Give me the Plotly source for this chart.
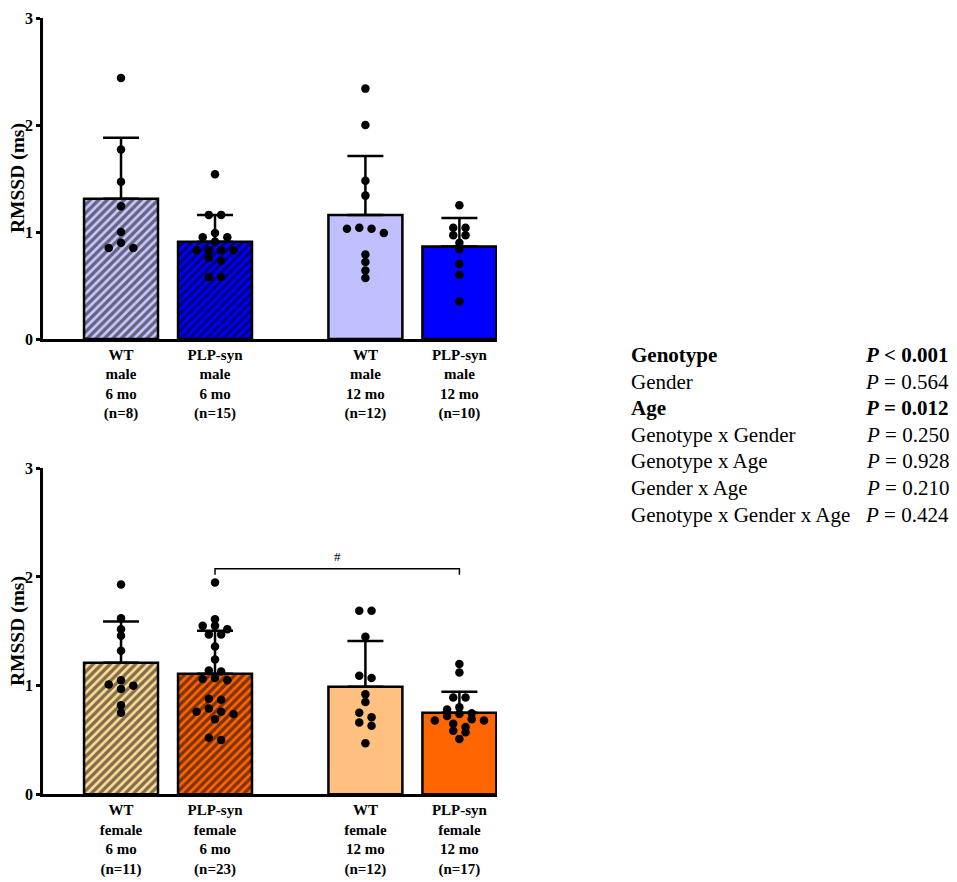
import plotly.graph_objects as go

# ---------------- data ----------------
male_labels = ["WT<br>male<br>6 mo<br>(n=8)", "PLP-syn<br>male<br>6 mo<br>(n=15)",
               "WT<br>male<br>12 mo<br>(n=12)", "PLP-syn<br>male<br>12 mo<br>(n=10)"]
female_labels = ["WT<br>female<br>6 mo<br>(n=11)", "PLP-syn<br>female<br>6 mo<br>(n=23)",
                 "WT<br>female<br>12 mo<br>(n=12)", "PLP-syn<br>female<br>12 mo<br>(n=17)"]
y_ticks = [0, 1, 2, 3]

male_mean = [1.31, 0.91, 1.16, 0.865]
male_sd = [0.57, 0.25, 0.55, 0.265]
female_mean = [1.21, 1.11, 0.99, 0.75]
female_sd = [0.38, 0.395, 0.42, 0.194]

wt_male_6 = [2.44, 1.77, 1.47, 1.24, 1.00, 0.90, 0.85, 0.85]
plp_male_6 = [1.54, 1.16, 1.16, 0.99, 0.95, 0.95, 0.91, 0.83, 0.83, 0.83, 0.83, 0.76, 0.73, 0.58, 0.58]
wt_male_12 = [2.34, 2.00, 1.48, 1.34, 1.04, 1.03, 1.03, 0.99, 0.79, 0.72, 0.64, 0.57]
plp_male_12 = [1.25, 1.04, 1.04, 0.97, 0.97, 0.90, 0.84, 0.70, 0.60, 0.35]

wt_female_6 = [1.93, 1.62, 1.52, 1.46, 1.32, 1.05, 1.01, 1.00, 0.97, 0.82, 0.75]
plp_female_6 = [1.95, 1.61, 1.55, 1.55, 1.52, 1.47, 1.47, 1.36, 1.24, 1.14, 1.13, 1.07, 1.06,
                1.05, 0.88, 0.87, 0.79, 0.76, 0.76, 0.74, 0.69, 0.52, 0.50]
wt_female_12 = [1.69, 1.69, 1.45, 1.09, 1.07, 0.92, 0.85, 0.75, 0.71, 0.66, 0.63, 0.47]
plp_female_12 = [1.20, 1.12, 0.89, 0.89, 0.80, 0.78, 0.745, 0.74, 0.72, 0.69, 0.68, 0.68,
                 0.65, 0.62, 0.585, 0.57, 0.51]

male_points = [wt_male_6, plp_male_6, wt_male_12, plp_male_12]
female_points = [wt_female_6, plp_female_6, wt_female_12, plp_female_12]

bracket_pair = [1, 3]
bracket_y = [2.02, 2.075]
bracket_label = "#"
bracket_label_y = 2.19

stats_terms = ["Genotype", "Gender", "Age", "Genotype x Gender", "Genotype x Age",
               "Gender x Age", "Genotype x Gender x Age"]
stats_rel = ["&lt;", "=", "=", "=", "=", "=", "="]
stats_p = ["0.001", "0.564", "0.012", "0.250", "0.928", "0.210", "0.424"]
stats_bold = [True, False, True, False, False, False, False]

# ---------------- styles ----------------
W, H = 957, 882
OFF = 8  # page body margin
pos = [0, 1, 2.6, 3.6]
male_colors = ["#c8c8ff", "#0000ff", "#c0c0ff", "#0000ff"]
female_colors = ["#ffdc96", "#ff6600", "#ffc080", "#ff6600"]
hatched = [True, True, False, False]
FONT = "Liberation Serif"

X_PX = 94.0      # px per x unit


def fx(px):
    return (px - OFF) / W


def fy(py):
    return 1 - (py - OFF) / H


def swarm(vals, binh=0.06, step=12.3 / X_PX):
    order = sorted(range(len(vals)), key=lambda i: -vals[i])
    rows, cur, start = [], [], None
    for i in order:
        if cur and vals[start] - vals[i] > binh:
            rows.append(cur)
            cur = []
        if not cur:
            start = i
        cur.append(i)
    if cur:
        rows.append(cur)
    offs = [0.0] * len(vals)
    for r in rows:
        n = len(r)
        slots = [(k - (n - 1) / 2) * step for k in range(n)]
        slots.sort(key=lambda s: (abs(s), s))
        for i, s in zip(r, slots):
            offs[i] = s
    return offs


fig = go.Figure()


def add_panel(means, sds, points, colors, xa, ya):
    for i in range(4):
        pattern = dict(shape="/" if hatched[i] else "", fgcolor="black",
                       bgcolor=colors[i], size=6, solidity=0.55)
        fig.add_trace(go.Bar(
            x=[pos[i]], y=[means[i]], width=0.787,
            marker=dict(color=colors[i], line=dict(color="black", width=2.5), pattern=pattern),
            error_y=dict(type="data", symmetric=False, array=[sds[i]], arrayminus=[0],
                         color="black", thickness=2.5, width=18),
            xaxis=xa, yaxis=ya, hoverinfo="skip"))
    for i in range(4):
        offs = swarm(points[i])
        fig.add_trace(go.Scatter(
            x=[pos[i] + o for o in offs], y=points[i], mode="markers",
            marker=dict(color="black", size=8.5),
            xaxis=xa, yaxis=ya, hoverinfo="skip"))


add_panel(male_mean, male_sd, male_points, male_colors, "x", "y")
add_panel(female_mean, female_sd, female_points, female_colors, "x2", "y2")

xdom = [fx(43), fx(497)]
top_dom = [fy(339), fy(18)]
bot_dom = [fy(794.3), fy(468.3)]

common_x = dict(range=[-0.83, 4.0], showline=True, linecolor="black", linewidth=2.5,
                showgrid=False, zeroline=False, ticks="", tickvals=pos, automargin=False,
                tickfont=dict(family=FONT, size=15, color="black"),
                ticklabeloverflow="allow", fixedrange=True)
common_y = dict(range=[0, 3], showline=True, linecolor="black", linewidth=2.5,
                showgrid=False, zeroline=False, ticks="outside", ticklen=4, tickwidth=2.5,
                tickcolor="black", tickvals=y_ticks, automargin=False,
                ticktext=[f"<b>{v}</b>" for v in y_ticks],
                tickfont=dict(family=FONT, size=16, color="black"),
                ticklabeloverflow="allow", fixedrange=True)

fig.update_layout(
    width=W, height=H, margin=dict(l=0, r=0, t=0, b=0, autoexpand=False),
    paper_bgcolor="white", plot_bgcolor="white", showlegend=False, barmode="overlay",
    xaxis=dict(domain=xdom, anchor="y", ticktext=[f"<b>{t}</b>" for t in male_labels], **common_x),
    yaxis=dict(domain=top_dom, anchor="x", **common_y),
    xaxis2=dict(domain=xdom, anchor="y2", ticktext=[f"<b>{t}</b>" for t in female_labels], **common_x),
    yaxis2=dict(domain=bot_dom, anchor="x2", **common_y),
)

# bracket
x0, x1 = pos[bracket_pair[0]], pos[bracket_pair[1]]
fig.add_shape(type="path", xref="x2", yref="y2",
              path=f"M {x0},{bracket_y[0]} L {x0},{bracket_y[1]} L {x1},{bracket_y[1]} L {x1},{bracket_y[0]}",
              line=dict(color="black", width=1.5))
fig.add_annotation(x=(x0 + x1) / 2, y=bracket_label_y, xref="x2", yref="y2", text=bracket_label,
                   showarrow=False, font=dict(family=FONT, size=13, color="black"))

# y titles
for yc in [178, 631]:
    fig.add_annotation(x=fx(18), y=fy(yc), xref="paper", yref="paper",
                       text="<b>RMSSD (ms)</b>", textangle=-90, showarrow=False,
                       xanchor="center", yanchor="middle",
                       font=dict(family=FONT, size=19.5, color="black"))

# stats table
for k, term in enumerate(stats_terms):
    yc = 355 + k * 26.6
    t = term
    p = f"<i>P</i> {stats_rel[k]} {stats_p[k]}"
    if stats_bold[k]:
        t = f"<b>{t}</b>"
        p = f"<b>{p}</b>"
    fig.add_annotation(x=fx(629), y=fy(yc), xref="paper", yref="paper", text=t,
                       xanchor="left", yanchor="middle", showarrow=False,
                       font=dict(family=FONT, size=21, color="black"))
    fig.add_annotation(x=fx(951), y=fy(yc), xref="paper", yref="paper", text=p,
                       xanchor="right", yanchor="middle", showarrow=False,
                       font=dict(family=FONT, size=21, color="black"))

fig.write_html("out.html")
